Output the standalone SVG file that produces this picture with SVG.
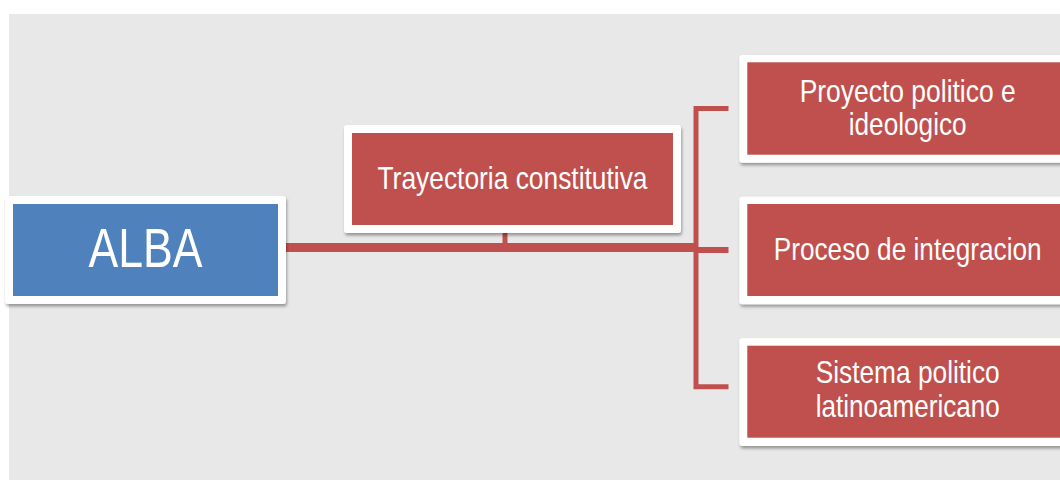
<svg xmlns="http://www.w3.org/2000/svg" width="1060" height="481" viewBox="0 0 1060 481">
<defs>
<filter id="sh" x="-10%" y="-10%" width="120%" height="130%">
<feDropShadow dx="1" dy="2.5" stdDeviation="1.6" flood-color="#000" flood-opacity="0.35"/>
</filter>
<style>
.frame{fill:#ffffff;filter:url(#sh)}
.red{fill:#C0504D}
.blue{fill:#4F81BD}
.t{fill:#ffffff;font-family:"Liberation Sans Narrow","Liberation Sans",Arial,sans-serif;font-size:32px;text-anchor:middle}
.big{font-size:56px}
.ln{stroke:#C0504D;fill:none}
</style>
</defs>
<rect x="0" y="0" width="1060" height="481" fill="#ffffff"/>
<rect x="9" y="14" width="1051" height="466" fill="#E8E8E8"/>
<g id="connectors">
<line class="ln" x1="286" y1="247.5" x2="696" y2="247.5" stroke-width="9"/>
<line class="ln" x1="505" y1="233" x2="505" y2="245" stroke-width="5"/>
<polyline class="ln" points="728.5,108.5 696,108.5 696,386.7 728.5,386.7" stroke-width="5"/>
<line class="ln" x1="696" y1="250" x2="728.5" y2="250" stroke-width="6"/>
</g>
<g id="alba">
<rect class="frame" x="5" y="196" width="281" height="108" rx="3"/>
<rect class="blue" x="13" y="204" width="265" height="92"/>
<text class="t big" x="145.5" y="267" textLength="114" lengthAdjust="spacingAndGlyphs">ALBA</text>
</g>
<g id="trayectoria">
<rect class="frame" x="344" y="125" width="337" height="108" rx="3"/>
<rect class="red" x="352" y="133" width="321" height="92"/>
<text class="t" x="512.5" y="189" textLength="270" lengthAdjust="spacingAndGlyphs">Trayectoria constitutiva</text>
</g>
<g id="proyecto">
<rect class="frame" x="739.3" y="55" width="337" height="107.7" rx="3"/>
<rect class="red" x="747.3" y="62.3" width="321" height="92.4"/>
<text class="t" x="907.7" y="101.7" textLength="216" lengthAdjust="spacingAndGlyphs">Proyecto politico e</text>
<text class="t" x="907.7" y="135" textLength="118" lengthAdjust="spacingAndGlyphs">ideologico</text>
</g>
<g id="proceso">
<rect class="frame" x="739.3" y="196.7" width="337" height="107.6" rx="3"/>
<rect class="red" x="747.3" y="204" width="321" height="92"/>
<text class="t" x="907.7" y="260" textLength="268" lengthAdjust="spacingAndGlyphs">Proceso de integracion</text>
</g>
<g id="sistema">
<rect class="frame" x="739.3" y="338.3" width="337" height="107.7" rx="3"/>
<rect class="red" x="747.3" y="345.7" width="321" height="92"/>
<text class="t" x="907.7" y="383.3" textLength="184" lengthAdjust="spacingAndGlyphs">Sistema politico</text>
<text class="t" x="907.7" y="417.3" textLength="184" lengthAdjust="spacingAndGlyphs">latinoamericano</text>
</g>
</svg>
